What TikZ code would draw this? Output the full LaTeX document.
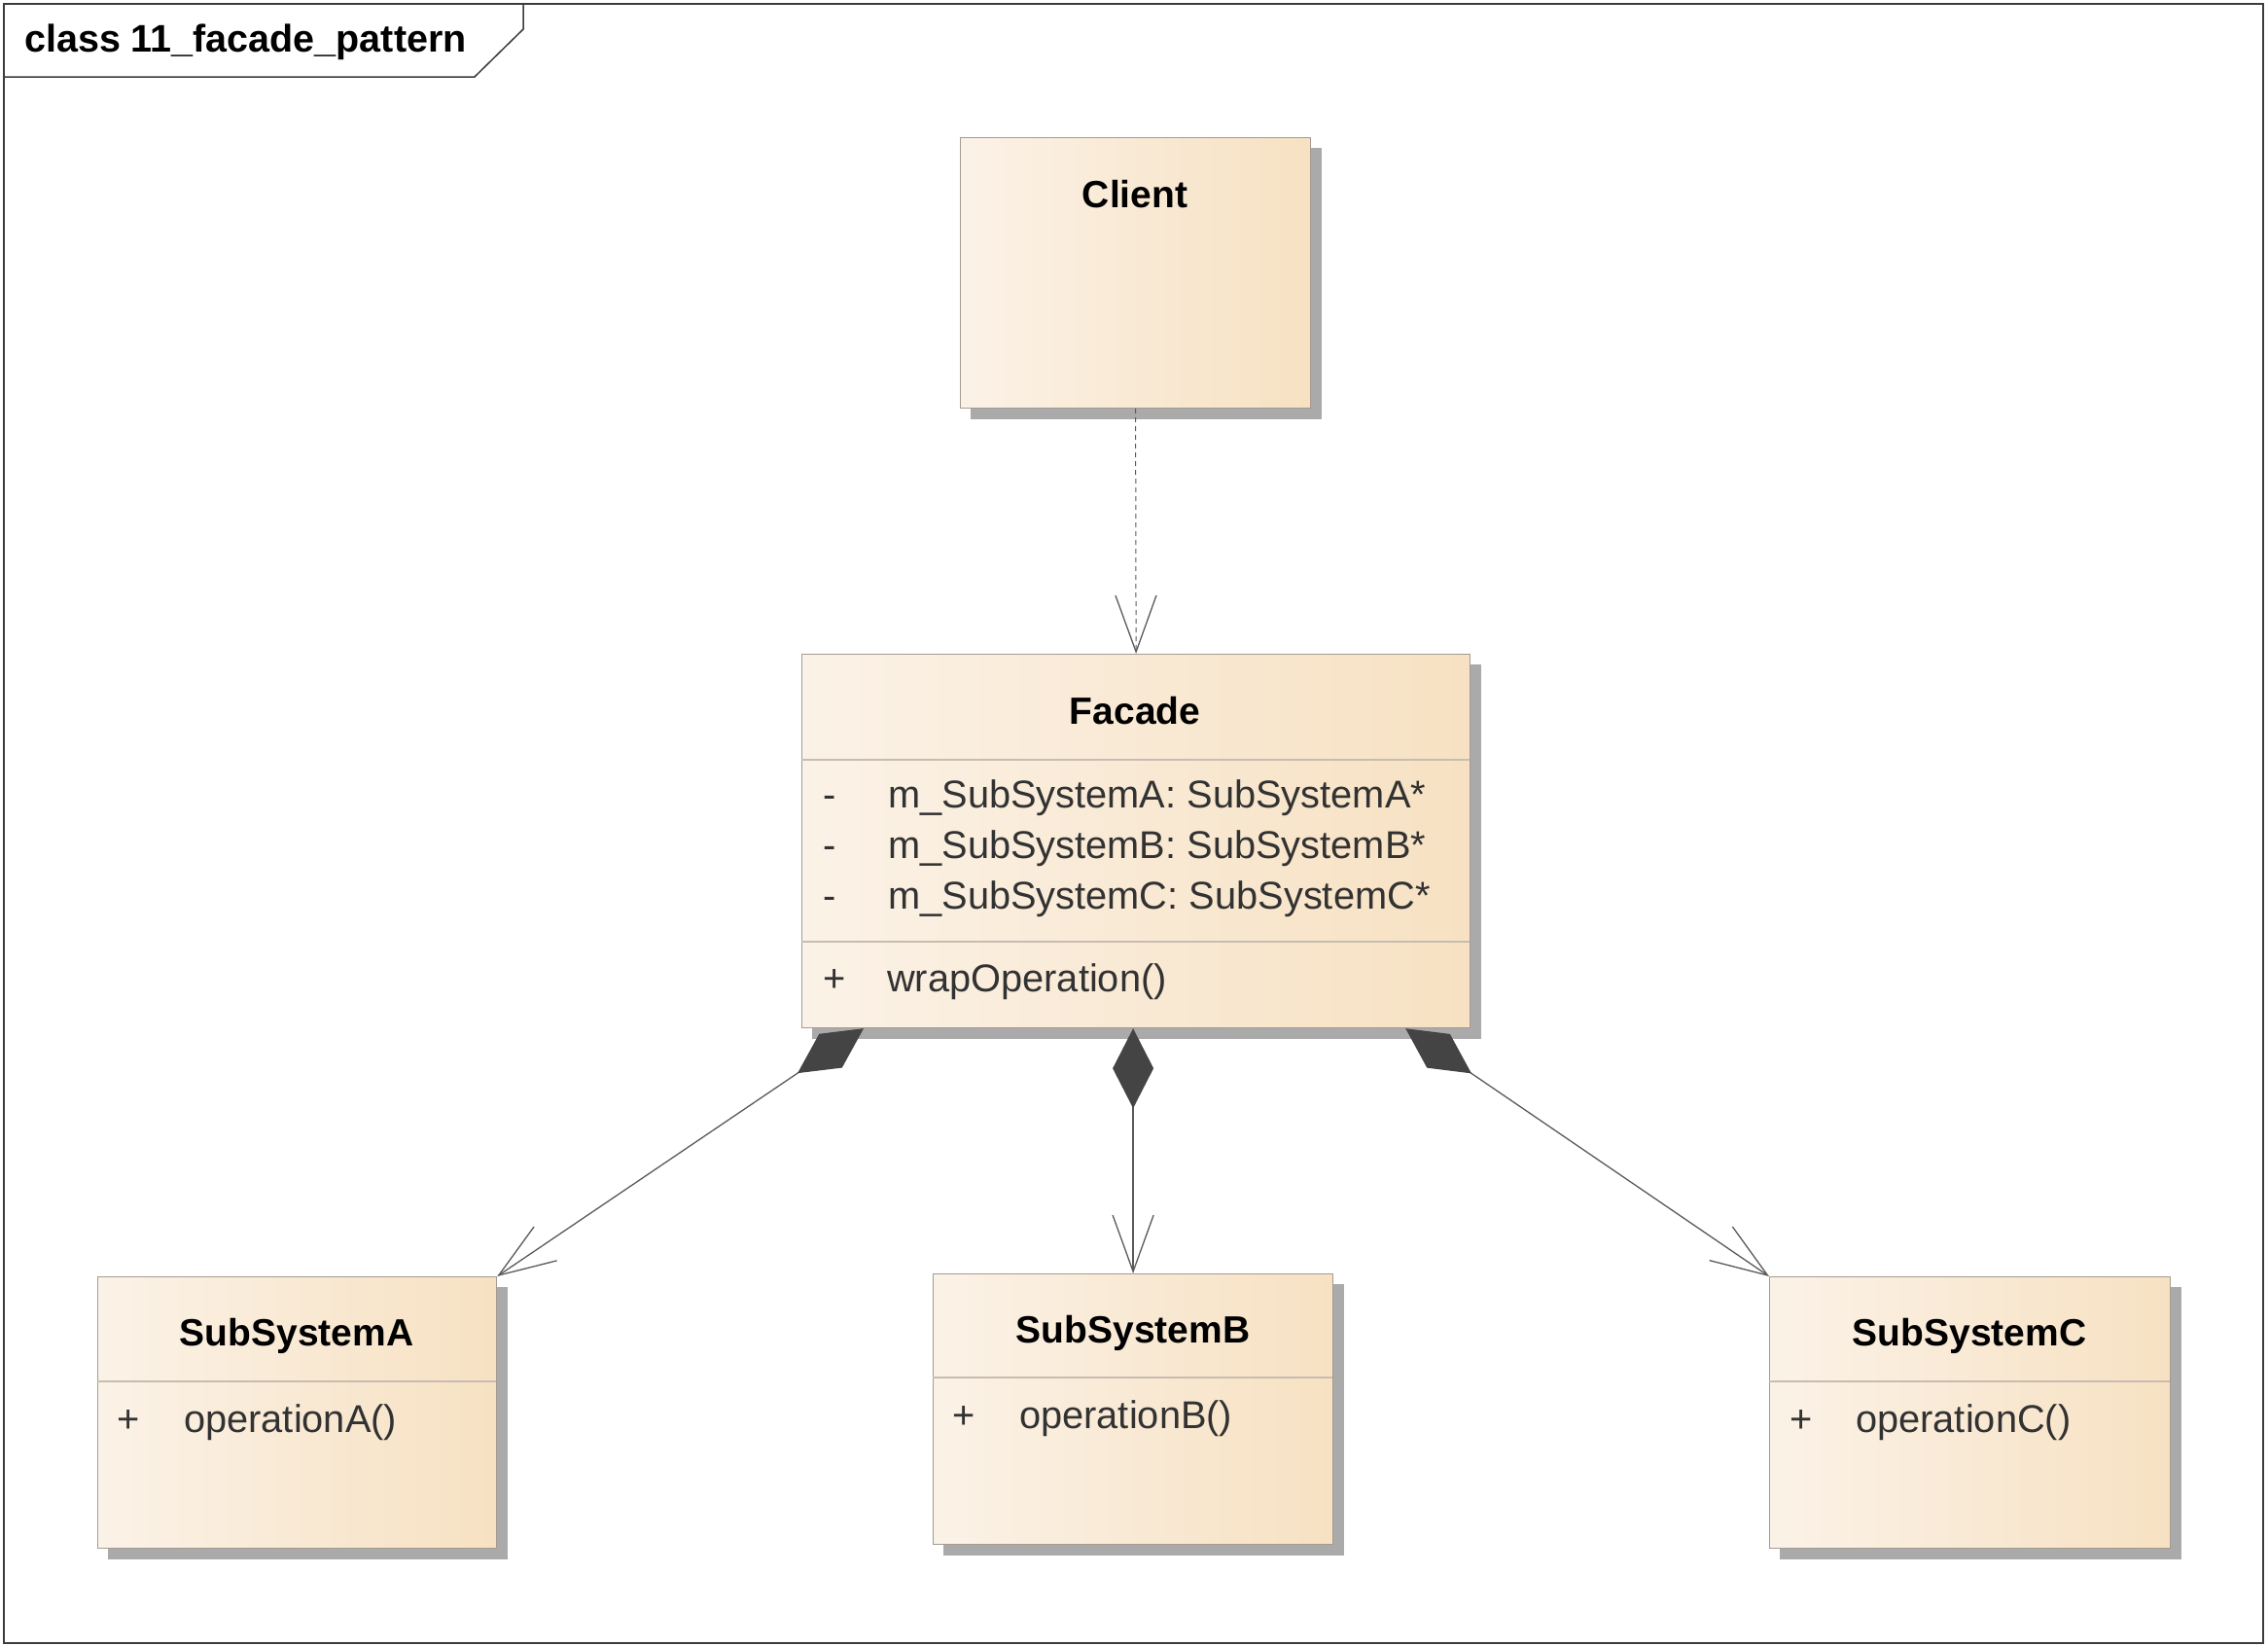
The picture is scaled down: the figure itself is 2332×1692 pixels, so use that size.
\documentclass[tikz,border=0pt]{standalone}
\usepackage{fontspec}
\setmainfont{Liberation Sans}
\usetikzlibrary{arrows.meta,calc,backgrounds}
\definecolor{boxL}{RGB}{251,242,231}
\definecolor{boxR}{RGB}{247,225,194}
\definecolor{boxBorder}{RGB}{165,155,145}
\definecolor{sepC}{RGB}{200,188,176}
\definecolor{shadowC}{RGB}{170,170,170}
\definecolor{lineC}{RGB}{90,90,90}
\definecolor{diaC}{RGB}{68,68,68}
\definecolor{txtC}{RGB}{50,50,50}
\definecolor{frameC}{RGB}{60,60,60}
\begin{document}
\begin{tikzpicture}[x=1pt,y=-1pt,
  classbox/.style={draw=boxBorder, line width=1.2pt, left color=boxL, right color=boxR, anchor=north west, inner sep=0pt},
  cname/.style={font=\fontsize{39}{46}\selectfont\bfseries, text=black, anchor=base, inner sep=0pt},
  member/.style={font=\fontsize{39.8}{46}\selectfont, text=txtC, anchor=base west, inner sep=0pt},
  sepline/.style={draw=sepC, line width=1.2pt},
  conn/.style={draw=lineC, line width=1.3pt},
  openhead/.style={-{Straight Barb[length=58pt,width=42pt,line width=1.3pt]}},
  compo/.style={{Diamond[length=82pt,width=42pt,color=diaC]}-{Straight Barb[length=58pt,width=42pt,line width=1.3pt]}}
]
\useasboundingbox (0,0) rectangle (2332,1692);

% class boxes
\node[classbox, minimum width=360pt, minimum height=278pt] (client) at (987,141) {};
\node[classbox, minimum width=687pt, minimum height=384pt] (facade) at (824,672) {};
\node[classbox, minimum width=410pt, minimum height=279pt] (sysA) at (100,1312) {};
\node[classbox, minimum width=411pt, minimum height=278pt] (sysB) at (959,1309) {};
\node[classbox, minimum width=412pt, minimum height=279pt] (sysC) at (1819,1312) {};

\begin{scope}[on background layer]
  \draw[frameC, line width=1.5pt, fill=white] (4,4) rectangle (2327,1689);
  \draw[frameC, line width=1.5pt, fill=white] (4,4) -- (538,4) -- (538,30) -- (488,79) -- (4,79) -- cycle;
  \foreach \n in {client,facade,sysA,sysB,sysC}
    \fill[shadowC] ($(\n.north west)+(11,11)$) rectangle ($(\n.south east)+(11,11)$);
\end{scope}

\node[font=\fontsize{39.5}{46}\selectfont\bfseries, anchor=base west, inner sep=0pt] (title) at (25,53) {class 11\_facade\_pattern};

% Client
\node[cname] (clientN) at (1167,213) {Client};

% Facade
\node[cname] (facadeN) at (1167,744) {Facade};
\draw[sepline] (824,781) -- (1511,781);
\node[member] (fa1m) at (846,830) {-};
\node[member] (fa1) at (913,830) {m\_SubSystemA: SubSystemA*};
\node[member] (fa2m) at (846,882) {-};
\node[member] (fa2) at (913,882) {m\_SubSystemB: SubSystemB*};
\node[member] (fa3m) at (846,934) {-};
\node[member] (fa3) at (913,934) {m\_SubSystemC: SubSystemC*};
\draw[sepline] (824,968) -- (1511,968);
\node[member] (fop) at (846,1019) {+};
\node[member] (fopT) at (912,1019) {wrapOperation()};

% SubSystemA
\node[cname] (sysAN) at (305,1383) {SubSystemA};
\draw[sepline] (100,1420) -- (510,1420);
\node[member] (aop) at (120,1472) {+};
\node[member] (aopT) at (189,1472) {operationA()};

% SubSystemB
\node[cname] (sysBN) at (1165,1380) {SubSystemB};
\draw[sepline] (959,1416) -- (1370,1416);
\node[member] (bop) at (979,1468) {+};
\node[member] (bopT) at (1048,1468) {operationB()};

% SubSystemC
\node[cname] (sysCN) at (2025,1383) {SubSystemC};
\draw[sepline] (1819,1420) -- (2231,1420);
\node[member] (cop) at (1840,1472) {+};
\node[member] (copT) at (1908,1472) {operationC()};

% connectors
\draw[conn, openhead, dash pattern=on 5pt off 4pt, line width=1pt] (client.south) -- (facade.north);
\draw[conn, compo] (sysB.north |- facade.south) -- (sysB.north);
\draw[conn, compo] ($(facade.south west)+(64,0)$) -- (sysA.north east);
\draw[conn, compo] ($(facade.south east)+(-67,0)$) -- (sysC.north west);
\end{tikzpicture}
\end{document}
